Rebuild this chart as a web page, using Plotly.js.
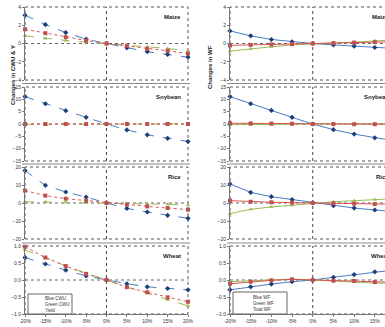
<!DOCTYPE html>
<html><head><meta charset="utf-8">
<script src="https://cdn.plot.ly/plotly-3.0.1.min.js"></script>
<style>html,body{margin:0;padding:0;overflow:hidden;background:#fff}#chart{width:400px;height:327px}</style>
</head><body><div id="chart"></div>
<script>
const xVals = [-20,-15,-10,-5,0,5,10,15,20];
const crops = ["Maize","Soybean","Rice","Wheat"];
// Left: CWU & Yield (%)
const maizeBlueCWU  = [3.1,2.07,1.2,0.47,0,-0.47,-0.9,-1.2,-1.5];
const maizeGreenCWU = [0.84,0.55,0.33,0.15,0,-0.15,-0.36,-0.55,-0.8];
const maizeYield    = [1.56,1.13,0.69,0.33,0,-0.25,-0.58,-0.8,-1.1];
const soyBlueCWU    = [11.1,8.2,5.4,2.7,0,-2.4,-4.4,-5.8,-7.1];
const soyGreenCWU   = [-0.3,-0.25,-0.2,-0.1,0,0.05,0.1,0.1,0.1];
const soyYield      = [0,0,0,0,0,0,0,0,0];
const riceBlueCWU   = [18,9.8,6.1,3.3,0,-3.0,-5.0,-6.9,-8.5];
const riceGreenCWU  = [0.7,0.55,0.4,0.2,0,-0.2,-0.4,-0.7,-1.3];
const riceYield     = [6.9,4.1,2.4,1.3,0,-0.9,-1.9,-2.8,-3.7];
const wheatBlueCWU  = [0.66,0.47,0.29,0.12,0,-0.11,-0.2,-0.25,-0.29];
const wheatGreenCWU = [0.88,0.66,0.41,0.2,0,-0.21,-0.39,-0.58,-0.76];
const wheatYield    = [0.98,0.66,0.41,0.18,0,-0.21,-0.36,-0.51,-0.64];
// Right: WF (%)
const maizeBlueWF   = [1.38,0.84,0.44,0.18,0,-0.15,-0.29,-0.44,-0.55];
const maizeGreenWF  = [-0.84,-0.58,-0.36,-0.15,0,0.07,0.15,0.29,0.4];
const maizeTotalWF  = [-0.2,-0.15,-0.1,-0.07,0,0.04,0.1,0.15,0.2];
const soyBlueWF     = [11.1,8.2,5.5,2.7,0,-2.3,-4.1,-5.6,-6.9];
const soyGreenWF    = [-0.3,-0.3,-0.25,-0.15,0,0.05,0.1,0.1,0.1];
const soyTotalWF    = [0.3,0.25,0.2,0.1,0,-0.05,-0.1,-0.1,-0.1];
const riceBlueWF    = [10.6,5.9,3.5,1.9,0,-1.5,-2.8,-3.9,-4.8];
const riceGreenWF   = [-5.9,-3.5,-2.2,-1.3,0,0.7,1.3,1.9,2.4];
const riceTotalWF   = [1.3,0.7,0.4,0.2,0,-0.2,-0.4,-0.6,-0.7];
const wheatBlueWF   = [-0.29,-0.2,-0.12,-0.05,0,0.08,0.16,0.24,0.3];
const wheatGreenWF  = [-0.05,-0.02,0,0.03,0,-0.04,-0.06,-0.09,-0.1];
const wheatTotalWF  = [-0.11,-0.05,-0.01,0.02,0,-0.02,-0.03,-0.06,-0.07];
const yRanges = [4,15,20,1];
const yTicks = [[-4,-2,0,2,4],[-15,-10,-5,0,5,10,15],[-20,-10,0,10,20],[-1,-0.5,0,0.5,1]];
const yFormats = [".0f",".0f",".0f",".1f"];
const xTickLabels = ["-20%","-15%","-10%","-5%","0%","5%","10%","15%","20%"];
const leftNames = ["Blue CWU","Green CWU","Yield"];
const rightNames = ["Blue WF","Green WF","Total WF"];
const leftData = [[maizeBlueCWU,maizeGreenCWU,maizeYield],[soyBlueCWU,soyGreenCWU,soyYield],[riceBlueCWU,riceGreenCWU,riceYield],[wheatBlueCWU,wheatGreenCWU,wheatYield]];
const rightData = [[maizeBlueWF,maizeGreenWF,maizeTotalWF],[soyBlueWF,soyGreenWF,soyTotalWF],[riceBlueWF,riceGreenWF,riceTotalWF],[wheatBlueWF,wheatGreenWF,wheatTotalWF]];

const W=400,H=327;
const colX = [[25/W,188/W],[230/W,395.5/W]];
const rowY = [[7,80],[87,161],[167,239],[246,314]].map(r=>[1-r[1]/H,1-r[0]/H]);
const font = "Liberation Sans, Arial, sans-serif";

const lineCol = ["#4a7cc0","#9bbb59","#d9534f"];
const markCol = ["#1f3f7a","#9bbb59","#c0504d"];
const symbols = ["diamond","triangle-up","square"];

const traces=[]; const layout={width:W,height:H,margin:{l:0,r:0,t:0,b:0},paper_bgcolor:"#fff",plot_bgcolor:"rgba(0,0,0,0)",showlegend:false,font:{family:font,size:5,color:"#333"},shapes:[],annotations:[]};
let idx=0;
for(let c=0;c<2;c++){
  for(let r=0;r<4;r++){
    idx++;
    const xa = idx===1?"x":"x"+idx, ya = idx===1?"y":"y"+idx;
    const xk = idx===1?"xaxis":"xaxis"+idx, yk = idx===1?"yaxis":"yaxis"+idx;
    layout[xk]={domain:colX[c],anchor:ya,range:[-20,20],tickvals:xVals,ticktext:xTickLabels,showticklabels:r===3,showgrid:false,zeroline:false,showline:r===3,linecolor:"#777",linewidth:1,ticks:r===3?"outside":"",ticklen:2,tickcolor:"#777",tickfont:{size:5,family:font,color:"#333"},fixedrange:true};
    layout[yk]={domain:rowY[r],anchor:xa,range:[-yRanges[r],yRanges[r]],tickvals:yTicks[r],tickformat:yFormats[r],ticksuffix:"%",showgrid:false,zeroline:false,showline:true,linecolor:"#777",linewidth:1,ticks:"outside",ticklen:2,tickcolor:"#777",tickfont:{size:5,family:font,color:"#333"},fixedrange:true};
    layout.shapes.push({type:"rect",xref:xa+" domain",yref:ya+" domain",x0:0,x1:1,y0:0,y1:1,line:{color:"#555",width:1,dash:"dot"},layer:"below"});
    layout.shapes.push({type:"line",xref:xa+" domain",yref:ya,x0:0,x1:1,y0:0,y1:0,line:{color:"#666",width:1,dash:"dot"},layer:"below"});
    layout.shapes.push({type:"line",xref:xa,yref:ya+" domain",x0:0,x1:0,y0:0,y1:1,line:{color:"#444",width:1,dash:"dot"},layer:"below"});
    layout.annotations.push({text:"<b>"+crops[r]+"</b>",xref:xa+" domain",yref:ya+" domain",x:0.97,y:0.93,xanchor:"right",yanchor:"top",showarrow:false,font:{size:6,family:font,color:"#222"}});
    const data = c===0?leftData[r]:rightData[r];
    for(let s=0;s<3;s++){
      traces.push({type:"scatter",mode:"lines+markers",x:xVals,y:data[s],xaxis:xa,yaxis:ya,cliponaxis:false,
        line:{color:lineCol[s],width:1,dash:c===0?(s===2?"dot":"dash"):"solid"},
        marker:{symbol:symbols[s],size:4,color:markCol[s]}});
    }
  }
}
// panel separators
[83.5,164,243].forEach(y=>{
  layout.shapes.push({type:"line",xref:"paper",yref:"paper",x0:22/W,x1:190/W,y0:1-y/H,y1:1-y/H,line:{color:"#888",width:1}});
  layout.shapes.push({type:"line",xref:"paper",yref:"paper",x0:227/W,x1:1,y0:1-y/H,y1:1-y/H,line:{color:"#888",width:1}});
});
layout.annotations.push({text:"<b>Changes in CWU & Y</b>",xref:"paper",yref:"paper",x:8/W,y:1-43/H,textangle:-90,showarrow:false,font:{size:6,family:font,color:"#222"}});
layout.annotations.push({text:"<b>Changes in WF</b>",xref:"paper",yref:"paper",x:210/W,y:1-43/H,textangle:-90,showarrow:false,font:{size:6,family:font,color:"#222"}});

// hand-built compact legends (pixel overlay axis)
layout.xaxis9={domain:[0,1],range:[0,W],visible:false,fixedrange:true,anchor:"y9"};
layout.yaxis9={domain:[0,1],range:[H,0],visible:false,fixedrange:true,anchor:"x9"};
const legends=[{names:leftNames,box:[28,72,294,314],ys:[298,304,310],lx:[29,41],tx:43,dashes:["dash","dash","dot"]},
               {names:rightNames,box:[233,287,292,314],ys:[297,303,309],lx:[236,249],tx:251,dashes:["solid","solid","solid"]}];
legends.forEach(L=>{
  layout.shapes.push({type:"rect",xref:"x9",yref:"y9",x0:L.box[0],x1:L.box[1],y0:L.box[2],y1:L.box[3],line:{color:"#666",width:1},fillcolor:"#fff",layer:"above"});
  L.names.forEach((n,s)=>{
    traces.push({type:"scatter",mode:"lines+markers",x:[L.lx[0],(L.lx[0]+L.lx[1])/2,L.lx[1]],y:[L.ys[s],L.ys[s],L.ys[s]],xaxis:"x9",yaxis:"y9",
      line:{color:lineCol[s],width:1,dash:L.dashes[s]},marker:{symbol:symbols[s],size:[0,4,0],color:markCol[s]},cliponaxis:false});
    layout.annotations.push({text:n,xref:"x9",yref:"y9",x:L.tx,y:L.ys[s],xanchor:"left",yanchor:"middle",showarrow:false,font:{size:4.5,family:font,color:"#333"}});
  });
});
Plotly.newPlot("chart",traces,layout,{staticPlot:true,displayModeBar:false});
</script></body></html>
